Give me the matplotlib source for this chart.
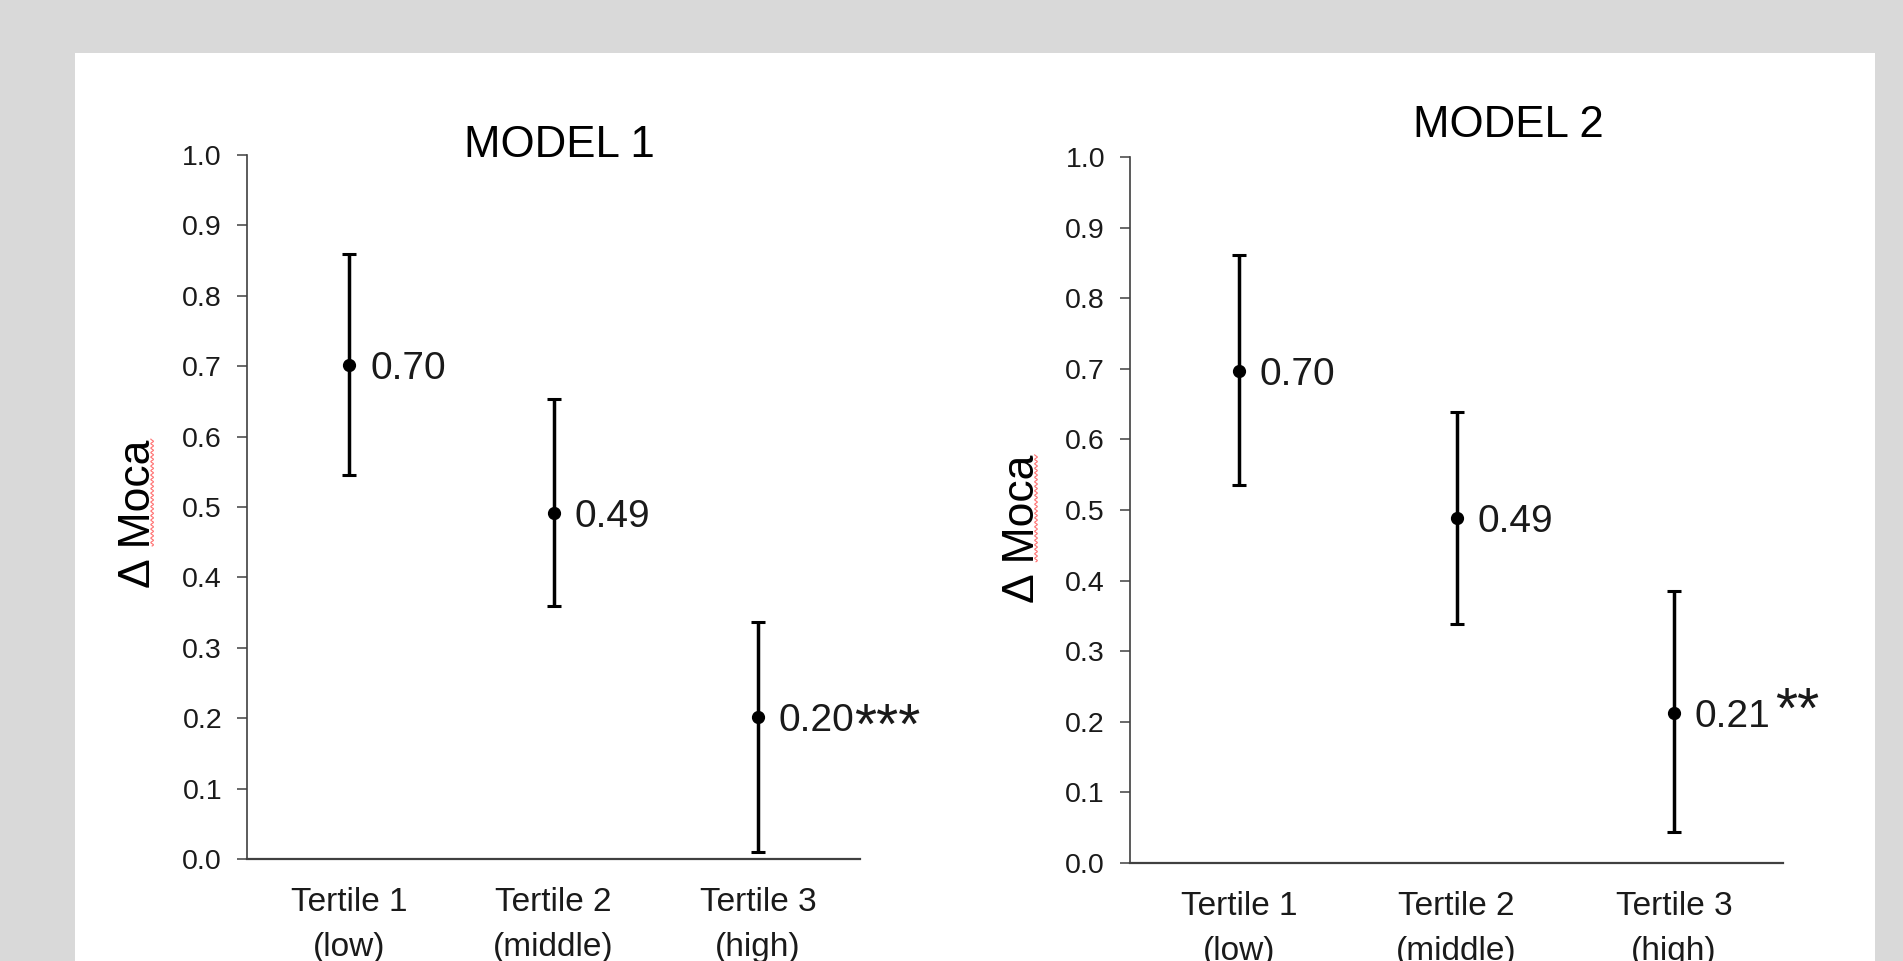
import numpy as np
import matplotlib
matplotlib.use("Agg")
import matplotlib.pyplot as plt
from matplotlib.patches import Rectangle
from matplotlib.lines import Line2D

plt.rcParams['font.family'] = ['Liberation Sans', 'DejaVu Sans']

# === DATA ===
categories = ["Tertile 1\n(low)", "Tertile 2\n(middle)", "Tertile 3\n(high)"]

m1_mean = [0.702, 0.491, 0.202]
m1_lower = [0.545, 0.360, 0.010]
m1_upper = [0.860, 0.654, 0.336]
m1_labels = ["0.70", "0.49", "0.20"]
m1_stars = ["", "", "***"]

m2_mean = [0.697, 0.488, 0.213]
m2_lower = [0.535, 0.339, 0.044]
m2_upper = [0.861, 0.639, 0.385]
m2_labels = ["0.70", "0.49", "0.21"]
m2_stars = ["", "", "**"]

yticks = [0.0, 0.1, 0.2, 0.3, 0.4, 0.5, 0.6, 0.7, 0.8, 0.9, 1.0]

# === FIGURE ===
W, H = 1903, 961
fig = plt.figure(figsize=(W / 100, H / 100), dpi=100)
fig.patch.set_facecolor('#d9d9d9')
fig.add_artist(Rectangle((75 / W, 0), 1800 / W, (H - 53) / H,
                         transform=fig.transFigure, facecolor='white',
                         edgecolor='none', zorder=0))

ax1 = fig.add_axes([247 / W, (H - 859) / H, 613 / W, 704 / H])
ax2 = fig.add_axes([1130 / W, (H - 863) / H, 653 / W, 706 / H])

axis_col = '#404040'
text_col = '#1a1a1a'


def draw_panel(ax, mean, lower, upper, labels, stars, star_off, title, title_xy, ylab_xy):
    x = np.arange(1, len(mean) + 1)
    mean = np.array(mean)
    err = [mean - np.array(lower), np.array(upper) - mean]
    ax.errorbar(x, mean, yerr=err, fmt='o', color='black', ms=8.5,
                elinewidth=2.5, capsize=4.7, capthick=2.2, zorder=3)
    for xi, yi, lab, st in zip(x, mean, labels, stars):
        ax.annotate(lab, (xi, yi), xytext=(15, 0), textcoords='offset points',
                    ha='left', va='center_baseline', fontsize=28, color=text_col)
        if st:
            # significance stars, drawn a bit larger like the original
            ax.annotate(st, (xi, yi), xytext=star_off, textcoords='offset points',
                        ha='left', va='top', fontsize=41, color=text_col)

    ax.set_xlim(0.5, len(mean) + 0.5)
    ax.set_ylim(0, 1.0)
    ax.set_yticks(yticks)
    ax.set_yticklabels([f"{t:.1f}" for t in yticks])
    ax.set_xticks(x)
    ax.set_xticklabels(categories, linespacing=1.6)
    ax.tick_params(axis='y', length=7, width=1.1, color=axis_col, pad=11,
                   labelsize=20.5, labelcolor=text_col)
    ax.tick_params(axis='x', length=0, pad=20, labelsize=24, labelcolor=text_col)
    for s in ['top', 'right']:
        ax.spines[s].set_visible(False)
    ax.spines['left'].set_color(axis_col)
    ax.spines['left'].set_linewidth(1.2)
    ax.spines['bottom'].set_color(axis_col)
    ax.spines['bottom'].set_linewidth(1.6)
    ax.patch.set_alpha(0)

    ax.text(title_xy[0], title_xy[1], title, transform=ax.transAxes,
            ha='center', va='baseline', fontsize=31.5, color='black')
    ylab = ax.text(ylab_xy[0], ylab_xy[1], "Δ Moca", transform=ax.transAxes,
                   rotation=90, rotation_mode='anchor', ha='center',
                   va='baseline', fontsize=32, color='black')
    return ylab


lab1 = draw_panel(ax1, m1_mean, m1_lower, m1_upper, m1_labels, m1_stars, (69.5, 11.0),
                  "MODEL 1", (0.509, 0.997), (-0.158, 0.491))
lab2 = draw_panel(ax2, m2_mean, m2_lower, m2_upper, m2_labels, m2_stars, (72.5, 19.0),
                  "MODEL 2", (0.580, 1.028), (-0.147, 0.473))

# === SPELL-CHECK SQUIGGLE UNDER "Moca" ===
fig.canvas.draw()
for lab in [lab1, lab2]:
    bb = lab.get_window_extent()
    y0 = bb.y0 + 0.28 * bb.height
    ys = np.linspace(y0, bb.y1, 300)
    xs = bb.x1 - 7 + 1.3 * np.sin((ys - y0) * 2 * np.pi / 4.5)
    pts = fig.transFigure.inverted().transform(np.column_stack([xs, ys]))
    fig.add_artist(Line2D(pts[:, 0], pts[:, 1], transform=fig.transFigure,
                          color='#ff7070', lw=0.8))

fig.savefig("out.png", dpi=100, facecolor=fig.get_facecolor())
